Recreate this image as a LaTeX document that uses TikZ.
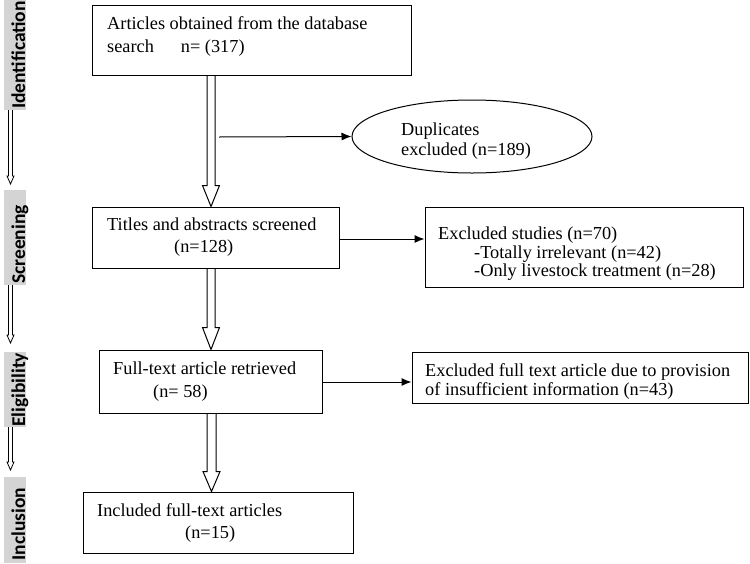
\documentclass[tikz,border=0pt]{standalone}
\usepackage{fontspec}
\setmainfont{Liberation Serif}
\newfontfamily\labfont{Carlito}
\usetikzlibrary{arrows.meta,shapes.geometric}
\newcommand\dblarr[6][]{%
  \draw[#1] ([xshift=-#4]#2) -- ([xshift=-#4,yshift=#6]#3) -- ([xshift=-#5,yshift=#6]#3) -- (#3)
    -- ([xshift=#5,yshift=#6]#3) -- ([xshift=#4,yshift=#6]#3) -- ([xshift=#4]#2);}
\begin{document}
\begin{tikzpicture}[x=1pt,y=-1pt,
  box/.style={draw=black,line width=1pt,rectangle,inner sep=0pt},
  txt/.style={inner sep=0pt,anchor=north west,align=left,font=\fontsize{18.3}{22.5}\selectfont},
  thinarrow/.style={line width=1pt,-{Latex[length=10pt,width=8pt]}},
  stage/.style={fill=black!17,draw=none,inner sep=0pt,minimum width=22pt},
  stagetxt/.style={rotate=90,anchor=base,inner sep=0pt,font=\labfont\bfseries\fontsize{19.5}{20}\selectfont},
  bigarrow/.style={line width=1pt,line join=miter},
  smallarrow/.style={line width=0.8pt,line join=miter}]
\useasboundingbox (0,0) rectangle (750,563);

% stage labels
\node[stage,minimum height=110pt] (g1) at (15,55) {};
\node[stage,minimum height=95pt] (g2) at (15,237.5) {};
\node[stage,minimum height=75pt] (g3) at (15,389.5) {};
\node[stage,minimum height=86pt] (g4) at (15,520) {};
\node[stagetxt] (l1) at (25,55) {Identification};
\node[stagetxt] (l2) at (25,244.5) {Screening};
\node[stagetxt] (l3) at (25,390) {Eligibility};
\node[stagetxt] (l4) at (25,524) {Inclusion};

\coordinate (u1) at (g1.south -| 10.5,0);
\coordinate (v1) at (10.5,184);
\coordinate (u2) at (g2.south -| 10.5,0);
\coordinate (v2) at (10.5,343);
\coordinate (u3) at (g3.south -| 10.5,0);
\coordinate (v3) at (10.5,470);
\dblarr[smallarrow]{u1}{v1}{2pt}{3.5pt}{8pt}
\dblarr[smallarrow]{u2}{v2}{2pt}{3.5pt}{8pt}
\dblarr[smallarrow]{u3}{v3}{2pt}{3.5pt}{8pt}

% boxes
\node[box,minimum width=319pt,minimum height=70pt] (b1) at (251.5,40) {};
\node[box,minimum width=247pt,minimum height=61pt] (b2) at (215.5,237.5) {};
\node[box,minimum width=318pt,minimum height=80pt] (b3) at (584,247) {};
\node[box,minimum width=223pt,minimum height=63pt] (b4) at (210.5,381.5) {};
\node[box,minimum width=336pt,minimum height=51pt] (b5) at (580,377.5) {};
\node[box,minimum width=270pt,minimum height=61pt] (b6) at (218,522.5) {};
\node[draw=black,line width=1pt,ellipse,minimum width=240pt,minimum height=73pt,inner sep=0pt] (e1) at (472,136.5) {};

% texts
\node[txt] (t1) at (107,16.5) {Articles obtained from the database\\[0.5pt]search\hspace{27pt}n= (317)};
\node[txt] (t2) at (107,218) {Titles and abstracts screened\\[-0.5pt]\hspace*{67pt}(n=128)};
\node[txt,font=\fontsize{18.3}{18.3}\selectfont] (t3) at (438,227) {Excluded studies (n=70)\\\hspace*{36pt}-Totally irrelevant (n=42)\\\hspace*{36pt}-Only livestock treatment (n=28)};
\node[txt] (t4) at (113,361.5) {Full-text article retrieved\\[0.5pt]\hspace*{40pt}(n= 58)};
\node[txt,font=\fontsize{18.3}{19}\selectfont] (t5) at (425,363) {Excluded full text article due to provision\\of insufficient information (n=43)};
\node[txt] (t6) at (97,503) {Included full-text articles\\[-0.5pt]\hspace*{88pt}(n=15)};
\node[txt,font=\fontsize{18.3}{20}\selectfont] (te) at (401,123) {Duplicates\\excluded (n=189)};

% big arrows
\coordinate (s1) at (b1.south -| 211,0);
\coordinate (p1) at (b2.north -| 211,0);
\coordinate (s2) at (b2.south -| 211,0);
\coordinate (p2) at (b4.north -| 211,0);
\coordinate (s3) at (b4.south -| 211.5,0);
\coordinate (p3) at (b6.north -| 211.5,0);
\dblarr[bigarrow]{s1}{p1}{4pt}{8.5pt}{21pt}
\dblarr[bigarrow]{s2}{p2}{4pt}{8.5pt}{22pt}
\dblarr[bigarrow]{s3}{p3}{4.5pt}{8.5pt}{20pt}

% thin arrows
\coordinate (d1) at (219,137);
\draw[thinarrow] (d1) -- (e1.west);
\draw[thinarrow] ([yshift=-1.5pt]b2.east) -- ([yshift=-1.5pt]b2.east -| b3.west);
\draw[thinarrow] ([yshift=-0.5pt]b4.east) -- ([yshift=-0.5pt]b4.east -| b5.west);
\end{tikzpicture}
\end{document}
